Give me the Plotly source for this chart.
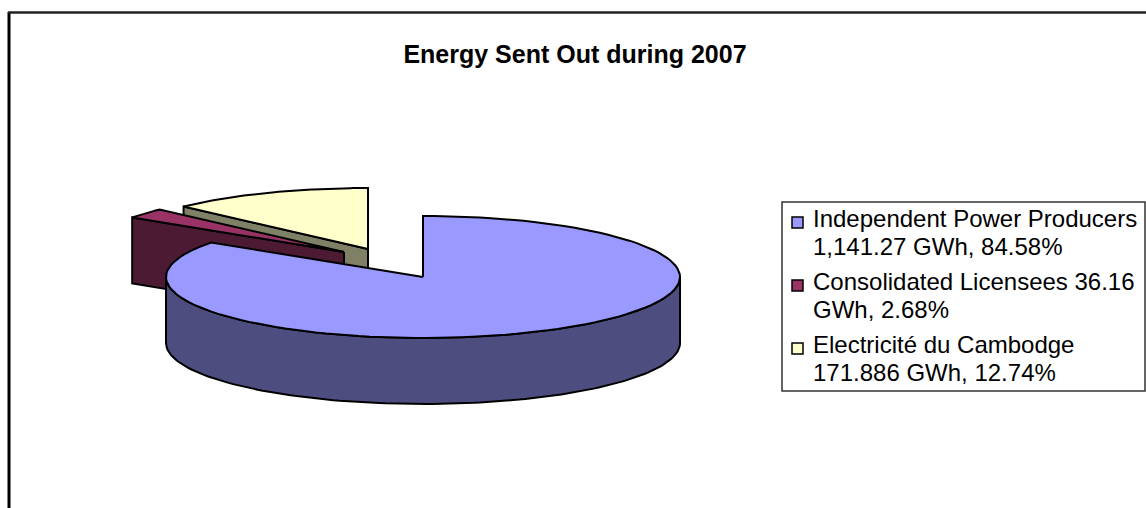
import numpy as np
import plotly.graph_objects as go

categories = ["Independent Power Producers", "Consolidated Licensees", "Electricité du Cambodge"]
values_gwh = [1141.27, 36.16, 171.886]
legend_lines = [
    ["Independent Power Producers", "1,141.27 GWh, 84.58%"],
    ["Consolidated Licensees 36.16", "GWh, 2.68%"],
    ["Electricité du Cambodge", "171.886 GWh, 12.74%"],
]
top_colors = ["#9999FF", "#993366", "#FFFFCC"]
wall_colors = ["#4D4D80", "#4D1A33", "#808066"]
title_text = "Energy Sent Out during 2007"

# pie projection on the page
RX, RY, DEPTH = 257, 61, 66
apexes = [(423, 277), (344, 252), (368, 249)]

shares = np.array(values_gwh) / sum(values_gwh)
edges = np.concatenate([[0], np.cumsum(shares)]) * 2 * np.pi


def rim(apex, a0, a1, n=120):
    t = np.linspace(a0, a1, n)
    return apex[0] + RX * np.sin(t), apex[1] - RY * np.cos(t)


def add_poly(fig, x, y, color, name):
    fig.add_trace(go.Scatter(
        x=np.append(x, x[0]), y=np.append(y, y[0]), mode="lines", fill="toself",
        fillcolor=color, line=dict(color="black", width=2), name=name,
        showlegend=False, hoverinfo="skip"))


fig = go.Figure()

for i in (2, 1, 0):
    apex = apexes[i]
    a0, a1 = edges[i], edges[i + 1]
    if i == 0:
        xs, ys = rim(apex, np.pi / 2, 3 * np.pi / 2)
        add_poly(fig, np.r_[xs, xs[::-1]], np.r_[ys, ys[::-1] + DEPTH], wall_colors[i], categories[i] + " side")
    else:
        ex, ey = rim(apex, a0, a0, 2)
        add_poly(fig, np.array([apex[0], ex[0], ex[0], apex[0]]),
                 np.array([apex[1], ey[0], ey[0] + DEPTH, apex[1] + DEPTH]),
                 wall_colors[i], categories[i] + " side")
    xs, ys = rim(apex, a0, a1)
    add_poly(fig, np.r_[apex[0], xs], np.r_[apex[1], ys], top_colors[i], categories[i])

for i, lines in enumerate(legend_lines):
    label = "<br>".join(f'<span style="font-size:24px">{l}</span>' for l in lines)
    fig.add_trace(go.Scatter(
        x=[None], y=[None], mode="markers", name=label, legendgroup=str(i),
        marker=dict(symbol="square", size=10, color="rgba(0,0,0,0)", line=dict(width=0))))

swatches = [dict(type="rect", x0=792, x1=803, y0=y, y1=y + 11, fillcolor=c,
                 line=dict(color="black", width=1.5))
            for y, c in zip((217, 280, 343), top_colors)]

fig.update_layout(
    width=1146, height=508, margin=dict(l=0, r=0, t=0, b=0),
    paper_bgcolor="white", plot_bgcolor="white",
    font=dict(family="Liberation Sans", color="black"),
    xaxis=dict(range=[0, 1146], visible=False, fixedrange=True),
    yaxis=dict(range=[508, 0], visible=False, fixedrange=True),
    title=dict(text=f"<b>{title_text}</b>", x=575 / 1146, xanchor="center",
               y=1 - 54 / 508, yanchor="middle",
               font=dict(family="Liberation Sans", size=25, color="black")),
    legend=dict(x=773 / 1146, y=1 - 198 / 508, xanchor="left", yanchor="top",
                bgcolor="rgba(0,0,0,0)", borderwidth=0, tracegroupgap=4,
                font=dict(size=21.5, family="Liberation Sans", color="black")),
    shapes=[
        dict(type="rect", x0=782, x1=1145, y0=202, y1=391, line=dict(color="#333333", width=1.5), layer="below"),
        dict(type="line", x0=9, x1=9, y0=12, y1=508, line=dict(color="black", width=3)),
        dict(type="line", x0=8, x1=1146, y0=12.5, y1=12.5, line=dict(color="#222222", width=2.5)),
    ] + swatches,
    showlegend=True,
)

fig.write_html("out.html", config={"displayModeBar": False},
               post_script="document.body.style.margin='0';document.body.style.overflow='hidden';")
